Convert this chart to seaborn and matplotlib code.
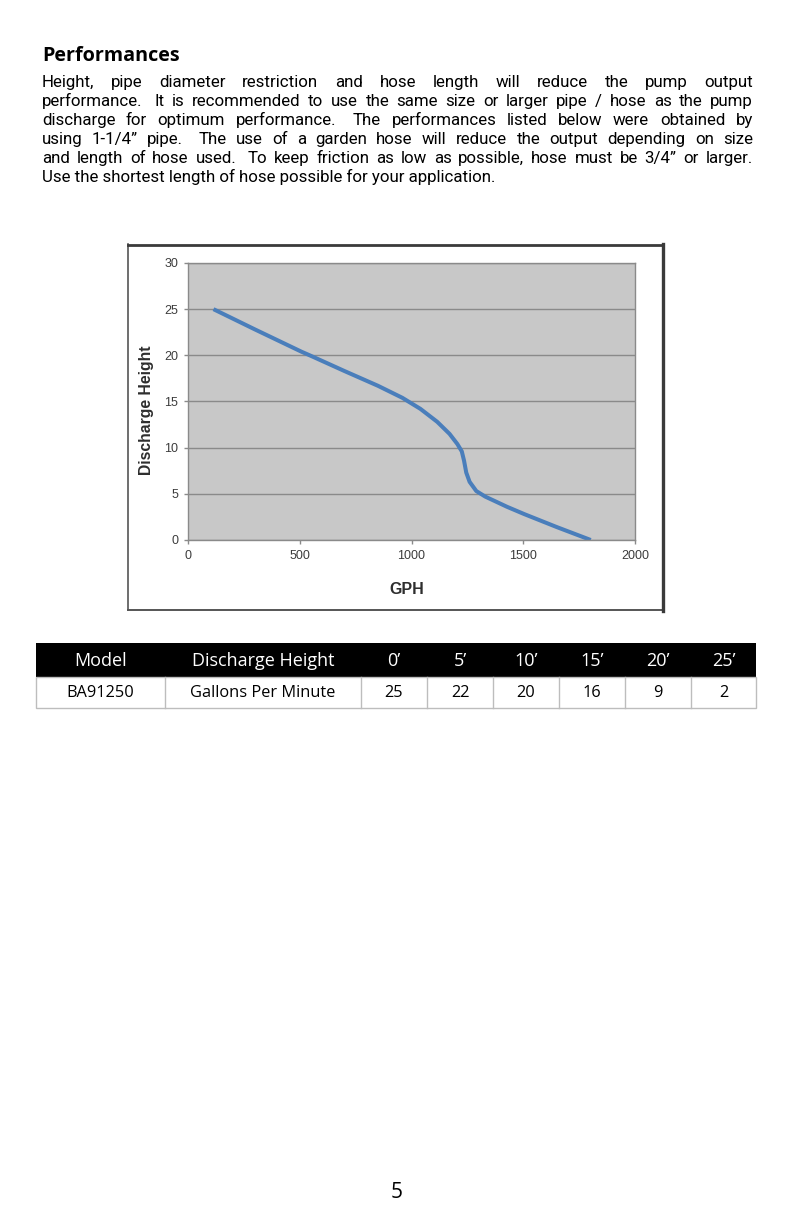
import matplotlib
matplotlib.use("Agg")
import matplotlib.pyplot as plt
import seaborn as sns
import pandas as pd
from matplotlib.patches import Rectangle
from matplotlib.lines import Line2D

# ---------------- data ----------------
gph = [114, 300, 507, 554, 700, 850, 959, 1040, 1115, 1170, 1205, 1225,
       1235, 1245, 1260, 1290, 1330, 1427, 1505, 1650, 1802]
height = [25.0, 22.8, 20.4, 19.9, 18.3, 16.7, 15.4, 14.2, 12.8, 11.5, 10.4, 9.6,
          8.6, 7.3, 6.3, 5.3, 4.7, 3.6, 2.8, 1.4, 0.0]
x_ticks = [0, 500, 1000, 1500, 2000]
y_ticks = [0, 5, 10, 15, 20, 25, 30]

title = "Performances"
body_lines = [
    "Height, pipe diameter restriction and hose length will reduce the pump output",
    "performance.  It is recommended to use the same size or larger pipe / hose as the pump",
    "discharge for optimum performance.  The performances listed below were obtained by",
    "using 1-1/4\u201d pipe.  The use of a garden hose will reduce the output depending on size",
    "and length of hose used.  To keep friction as low as possible, hose must be 3/4\u201d or larger.",
    "Use the shortest length of hose possible for your application.",
]
table_header = ["Model", "Discharge Height", "0\u2019", "5\u2019", "10\u2019", "15\u2019", "20\u2019", "25\u2019"]
table_row = ["BA91250", "Gallons Per Minute", "25", "22", "20", "16", "9", "2"]
page_number = "5"

# ---------------- figure ----------------
W, H = 793, 1225
fig = plt.figure(figsize=(W / 100, H / 100), dpi=100)
fig.patch.set_facecolor("white")

page = fig.add_axes([0, 0, 1, 1], zorder=0)
page.set_xlim(0, W)
page.set_ylim(H, 0)
page.axis("off")

body_font = "Roboto"
table_font = "Open Sans"
renderer = fig.canvas.get_renderer()

page.text(42, 61, title, fontsize=14.2, fontweight="bold", family="Open Sans",
          ha="left", va="baseline", color="black")

left_x, right_x = 42, 753


def word_width(w, size):
    t = page.text(0, 0, w, fontsize=size, family=body_font)
    wd = t.get_window_extent(renderer).width
    t.remove()
    return wd


# size so that the (unjustified) last line is about 453 px wide like the reference
body_size = 11.0 * 453.0 / word_width(body_lines[-1], 11.0)

for i, line in enumerate(body_lines):
    y = 87 + 19 * i
    if i == len(body_lines) - 1:
        page.text(left_x, y, line, fontsize=body_size, family=body_font,
                  ha="left", va="baseline", color="black")
        continue
    parts = line.split(" ")
    words, weights = [], []
    gapw = 0
    for p in parts:
        if p == "":
            gapw += 1
            continue
        if words:
            weights.append(1.6 if gapw else 1.0)
        words.append(p)
        gapw = 0
    widths = [word_width(w, body_size) for w in words]
    unit = (right_x - left_x - sum(widths)) / max(sum(weights), 1)
    x = left_x
    for j, w in enumerate(words):
        page.text(x, y, w, fontsize=body_size, family=body_font,
                  ha="left", va="baseline", color="black")
        x += widths[j]
        if j < len(weights):
            x += unit * weights[j]

# chart frame
frame_color = "#3a3a3a"
page.add_line(Line2D([128, 128], [244, 610], color="#555555", lw=1.2))
page.add_line(Line2D([128, 663], [610, 610], color="#555555", lw=1.4))
page.add_line(Line2D([128, 663], [244.5, 244.5], color=frame_color, lw=2.0))
page.add_line(Line2D([662.5, 662.5], [244, 611], color=frame_color, lw=2.4))

# table
cols = [36, 165, 361, 427, 493, 559, 625, 691, 756]
page.add_patch(Rectangle((cols[0], 643), cols[-1] - cols[0], 34, facecolor="black", edgecolor="none"))
page.add_patch(Rectangle((cols[0], 677), cols[-1] - cols[0], 31, facecolor="white",
                         edgecolor="#bdbdbd", lw=1))
for cx in cols[1:-1]:
    page.add_line(Line2D([cx, cx], [677, 708], color="#bdbdbd", lw=1))
for j in range(len(table_header)):
    xc = (cols[j] + cols[j + 1]) / 2
    page.text(xc, 660.5, table_header[j], fontsize=13, family=table_font, color="white",
              ha="center", va="center")
    page.text(xc, 693, table_row[j], fontsize=11.8, family=table_font, color="black",
              ha="center", va="center")

page.text(397, 1198, page_number, fontsize=15, family=table_font, ha="center",
          va="baseline", color="black")

# ---------------- chart ----------------
ax = fig.add_axes([188 / W, (H - 540) / H, (635 - 188) / W, (540 - 263) / H], zorder=2)
df = pd.DataFrame({"GPH": gph, "Discharge Height": height})
sns.lineplot(data=df, x="GPH", y="Discharge Height", sort=False, ax=ax,
             color="#4a7ebb", lw=2.9, solid_capstyle="butt")
ax.set_facecolor("#c8c8c8")
ax.set_xlim(0, 2000)
ax.set_ylim(0, 30)
ax.set_xticks(x_ticks)
ax.set_yticks(y_ticks)
ax.yaxis.grid(True, color="#8a8a8a", lw=1)
ax.xaxis.grid(False)
ax.set_axisbelow(True)
for s in ax.spines.values():
    s.set_color("#8a8a8a")
    s.set_linewidth(1)
ax.tick_params(axis="both", labelsize=9, labelcolor="#3c3c3c", length=3,
               color="#8a8a8a", width=1, pad=4)
for lab in ax.get_xticklabels() + ax.get_yticklabels():
    lab.set_family("Liberation Sans")
ax.set_xlabel("GPH", fontsize=11.5, fontweight="bold", color="#2e2e2e", family="Liberation Sans")
ax.set_ylabel("Discharge Height", fontsize=11.3, fontweight="bold", color="#2e2e2e",
              family="Liberation Sans")
ax.xaxis.set_label_coords(0.49, -0.152)
ax.yaxis.set_label_coords(-0.076, 0.4675)

fig.savefig("out.png", dpi=100, facecolor="white")
